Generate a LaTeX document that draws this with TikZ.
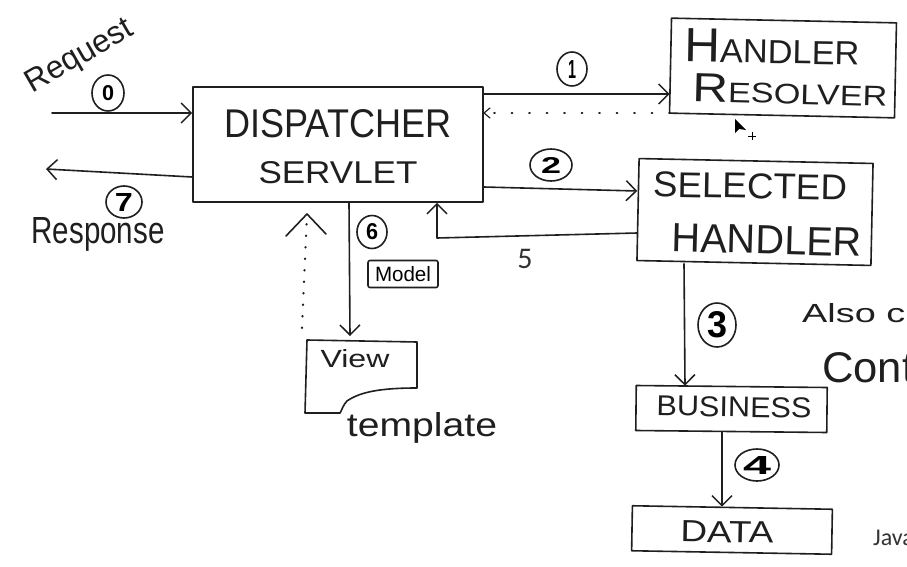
\documentclass[tikz,border=0pt]{standalone}
\usepackage{fontspec}
\setmainfont{Liberation Sans}
\newfontfamily\typed{Carlito}
\usepackage{graphicx}
\usetikzlibrary{arrows.meta,shapes.geometric}
\newcommand{\hw}[3]{\resizebox{#1pt}{#2pt}{#3}}
\tikzset{
  ink/.style={line width=1.6pt, draw=black!88, line join=round, line cap=round},
  arr/.style={ink, -{Straight Barb[length=10pt,width=20pt,line width=1.5pt]}},
  dotarr/.style={ink, line width=2.2pt, dash pattern=on 0.5pt off 17pt},
  boxnode/.style={ink, draw, rectangle, inner sep=0pt},
  num/.style={ink, draw, ellipse, inner sep=0pt, font=\bfseries},
  lbl/.style={inner sep=0pt, text=black!88},
}
\begin{document}
\begin{tikzpicture}[x=1pt,y=-1pt]
\useasboundingbox (0,0) rectangle (907,567);
\clip (0,0) rectangle (907,567);
\fill[white] (0,0) rectangle (907,567);

% boxes
\node[boxnode, minimum width=290pt, minimum height=115pt] (disp) at (338,144.5) {};
\node[boxnode, minimum width=225pt, minimum height=95pt, rotate=-1.2] (res) at (783,68) {};
\node[boxnode, minimum width=234pt, minimum height=102pt, rotate=-1.2] (sel) at (755,212) {};
\node[boxnode, minimum width=191pt, minimum height=45pt, rotate=-0.6] (bus) at (731.5,409) {};
\node[boxnode, minimum width=200pt, minimum height=45pt, rotate=-1] (data) at (732,530) {};

% box texts
\node[lbl] (tdisp1) at (338,124) {\hw{227}{28}{DISPATCHER}};
\node[lbl] (tdisp2) at (338,173) {\hw{159}{22}{SERVLET}};
\node[lbl, rotate=-1] (tres1) at (772,47) {\hw{175}{33}{{\Large H}ANDLER}};
\node[lbl, rotate=-1.5] (tres2) at (790,90) {\hw{195}{28}{{\Large R}ESOLVER}};
\node[lbl, rotate=-1] (tsel1) at (750,186) {\hw{194}{25}{SELECTED}};
\node[lbl, rotate=-1.5] (tsel2) at (767,240) {\hw{190}{28}{HANDLER}};
\node[lbl, rotate=-1] (tbus) at (734,407) {\hw{155}{20}{BUSINESS}};
\node[lbl, rotate=-1] (tdata) at (727,532) {\hw{93}{21}{DATA}};

% view template shape
\draw[ink] (307,340) -- (417,342) -- (417,388)
  .. controls (380,388) and (360,392) .. (347,401)
  .. controls (343,405) and (342,410) .. (340,413) -- (305,413) -- cycle;
\coordinate (viewA) at (350,336);
\coordinate (viewB) at (302,328);
\node[lbl] (tview) at (355,359) {\hw{69}{18}{View}};
\node[lbl, anchor=base] (ttempl) at (422,436) {\hw{150}{24}{template}};

% side texts
\node[lbl, rotate=30] (treq) at (80,57) {\hw{118}{22}{Request}};
\node[lbl, anchor=base] (tresp) at (98,243) {\hw{133}{26}{Response}};
\node[lbl, anchor=base west] (talso) at (802,322) {\hw{103}{19}{Also c}};
\node[lbl, anchor=base west] (tcont) at (822,382) {\hw{92}{30}{Cont}};
\node[lbl, anchor=base, text=black!80] (t5) at (525,268) {\typed\fontsize{30}{32}\selectfont 5};
\node[lbl, anchor=base west, text=black!80] (tjava) at (873,545) {\typed\fontsize{24}{26}\selectfont Java};

% numbered circles
\node[num, minimum width=32pt, minimum height=36pt] (c0) at (108,93) {\hw{12}{15}{0}};
\node[num, minimum width=30pt, minimum height=34pt] (c1) at (572,69) {\hw{8}{18}{1}};
\node[num, minimum width=42pt, minimum height=32pt] (c2) at (551,165) {\hw{20}{16}{2}};
\node[num, minimum width=38pt, minimum height=44pt] (c3) at (717,325) {\hw{20}{26}{3}};
\node[num, minimum width=44pt, minimum height=32pt] (c4) at (757,465) {\hw{28}{18}{4}};
\node[num, minimum width=30pt, minimum height=33pt] (c6) at (372,232) {\hw{12}{16}{6}};
\node[num, minimum width=36pt, minimum height=32pt] (c7) at (124,202) {\hw{18}{18}{7}};
\node[ink, draw, rounded corners=2pt, minimum width=70pt, minimum height=27pt, inner sep=0pt] (model) at (403,274) {\hw{56}{15}{Model}};

% connectors
\coordinate (reqstart) at (52,113);
\coordinate (respend) at (46,169);
\draw[arr] (reqstart) -- (disp.west |- 0,113);
\draw[arr] (disp.west |- 0,177) -- (respend);
\draw[arr] (disp.east |- 0,94) -- (res.west |- 0,94);
\draw[dotarr] (res.west |- 0,113) -- (disp.east |- 0,113);
\draw[ink, line width=1.2pt] (490,108) -- (484,113) -- (490,118);
\draw[arr] (disp.east |- 0,187) -- (sel.west |- 0,191);
\coordinate (c5) at (437,238);
\draw[arr] (sel.west |- 0,233) -- (c5) -- (c5 |- disp.south);
\draw[arr] (disp.south -| 349,0) -- (viewA);
\coordinate (tip6) at (307,214);
\draw[dotarr, dash pattern=on 0.5pt off 11pt] (viewB) -- (tip6);
\draw[ink] (286,236) -- (tip6) -- (326,234);
\draw[arr] (sel.south -| 684,0) -- (bus.north -| 685,0);
\draw[arr] (bus.south -| 722,0) -- (data.north -| 722,0);

% mouse cursor
\fill[black] (735,119) -- (735,133) -- (739,129) -- (746,130) -- cycle;
\draw[black, line width=0.6pt] (748,136) -- (756,136) (752,132) -- (752,140);
\end{tikzpicture}
\end{document}
